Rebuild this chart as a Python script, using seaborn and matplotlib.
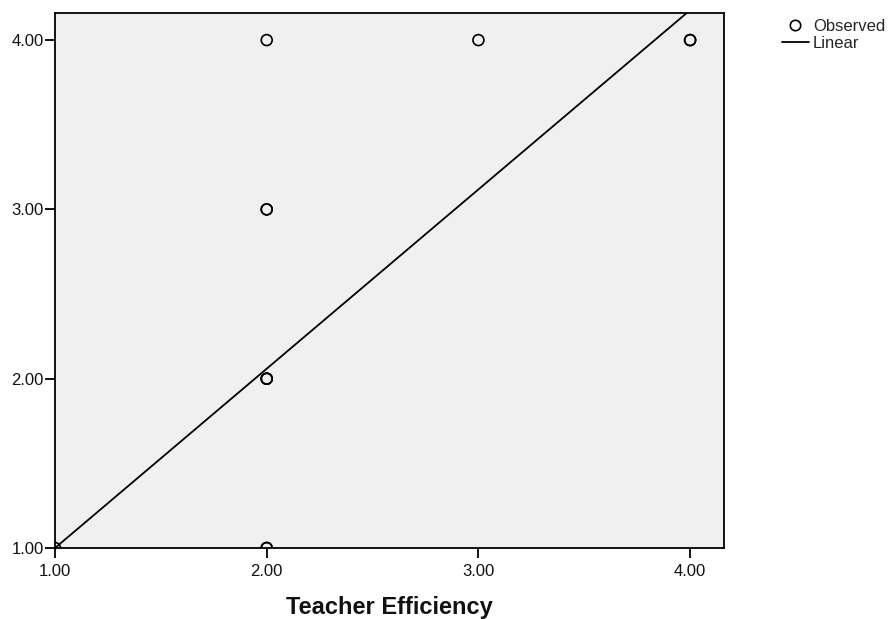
import matplotlib
matplotlib.use("Agg")
import matplotlib.pyplot as plt
import seaborn as sns
import numpy as np
import pandas as pd
from matplotlib.lines import Line2D

# Observed data (repeated points drawn on top of each other)
obs_x = [1.0, 2.0, 2.0, 2.0, 2.0, 2.0, 2.0, 2.0, 2.0, 3.0, 4.0, 4.0]
obs_y = [1.0, 1.0, 1.0, 2.0, 2.0, 2.0, 3.0, 3.0, 4.0, 4.0, 4.0, 4.0]

# Linear fit coefficients
fit_intercept = -0.059
fit_slope = 1.059

x_ticks = [1.0, 2.0, 3.0, 4.0]
y_ticks = [1.0, 2.0, 3.0, 4.0]
x_label = "Teacher Efficiency"

sns.set_theme(style="ticks")
plt.rcParams["font.family"] = ["Liberation Sans", "DejaVu Sans"]

fig = plt.figure(figsize=(8.92, 6.19), dpi=100)
ax = fig.add_axes([55/892, 1-548/619, (724-55)/892, (548-13)/619])
ax.set_facecolor("#F0F0F0")

xmin, xmax = 1.0, 4.16
ymin, ymax = 1.0, 4.16

line_x = np.array([xmin, xmax])
line_df = pd.DataFrame({"x": line_x, "y": fit_intercept + fit_slope * line_x})
sns.lineplot(data=line_df, x="x", y="y", ax=ax, color="black", linewidth=1.3)

df = pd.DataFrame({"x": obs_x, "y": obs_y})
sns.scatterplot(data=df, x="x", y="y", ax=ax, marker="o", s=62,
                facecolors="none", edgecolor="black", linewidth=1.2, zorder=5)

ax.set_xlim(xmin, xmax)
ax.set_ylim(ymin, ymax)
ax.set_xticks(x_ticks)
ax.set_yticks(y_ticks)
ax.set_xticklabels([f"{v:.2f}" for v in x_ticks])
ax.set_yticklabels([f"{v:.2f}" for v in y_ticks])
ax.tick_params(direction="out", length=7.5, width=1.3, color="black", labelsize=12, labelcolor="#111111")
ax.tick_params(axis="x", pad=4)
ax.tick_params(axis="y", pad=0.5)
for s in ax.spines.values():
    s.set_color("black")
    s.set_linewidth(1.3)
ax.set_xlabel(x_label, fontsize=17, fontweight="bold", labelpad=12.5, color="#111111")
ax.set_ylabel("")

handles = [
    Line2D([], [], marker="o", linestyle="none", markerfacecolor="none", markeredgecolor="black",
           markersize=7.5, markeredgewidth=1.2),
    Line2D([], [], color="black", linewidth=1.3),
]
fig.legend(handles, ["Observed", "Linear"], loc="upper left", bbox_to_anchor=(782/892, 1-19/619),
           frameon=False, fontsize=12, handlelength=1.6, handletextpad=0.25, labelspacing=0.1,
           borderaxespad=0, borderpad=0)

fig.savefig("out.png", dpi=100)
